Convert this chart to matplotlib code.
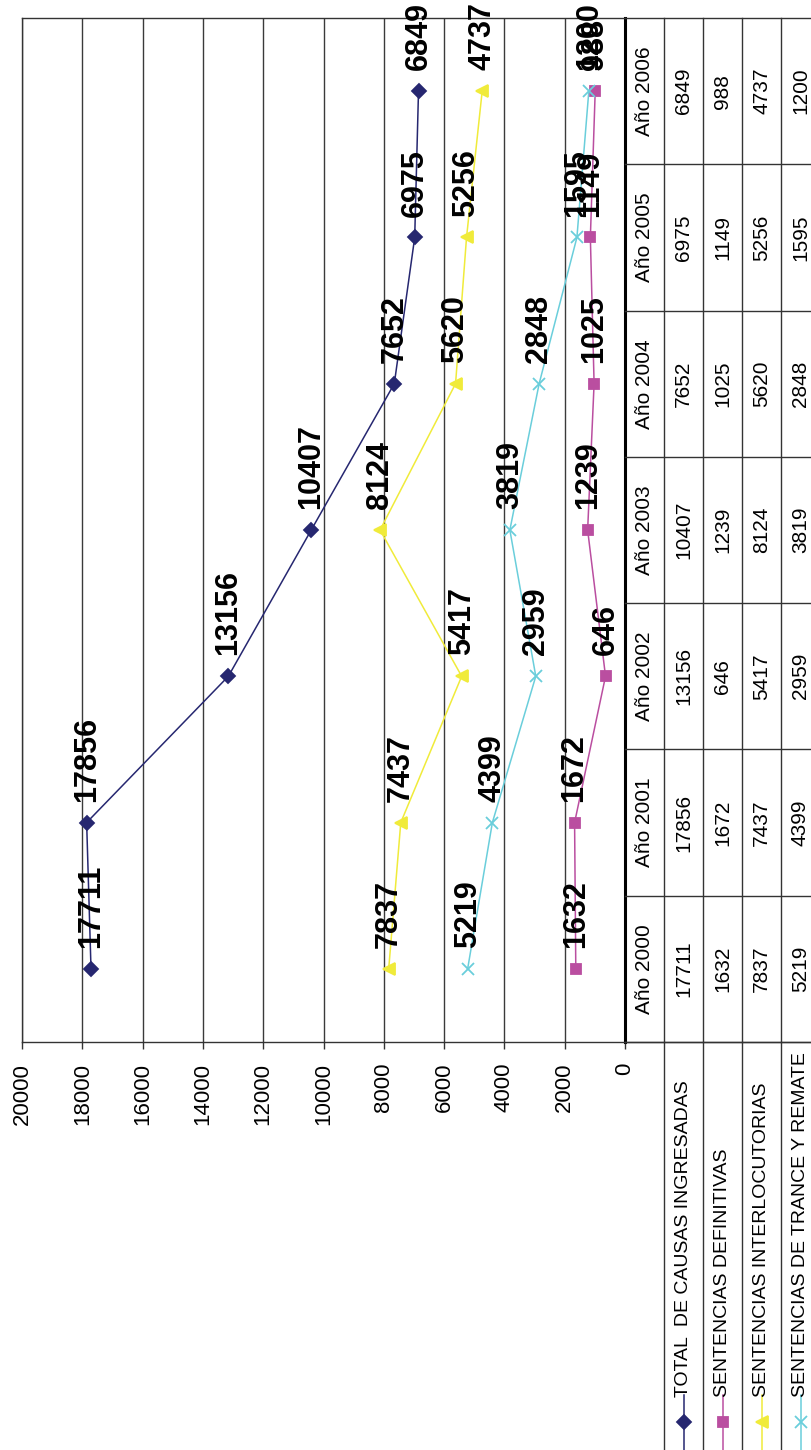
import matplotlib
matplotlib.use('Agg')
import matplotlib.pyplot as plt

plt.rcParams['font.family'] = ['Liberation Sans', 'DejaVu Sans']

# Datos
anios = ['Año 2000', 'Año 2001', 'Año 2002', 'Año 2003', 'Año 2004', 'Año 2005', 'Año 2006']
series = ['TOTAL  DE CAUSAS INGRESADAS', 'SENTENCIAS DEFINITIVAS',
          'SENTENCIAS INTERLOCUTORIAS', 'SENTENCIAS DE TRANCE Y REMATE']
total_causas = [17711, 17856, 13156, 10407, 7652, 6975, 6849]
sent_definitivas = [1632, 1672, 646, 1239, 1025, 1149, 988]
sent_interlocutorias = [7837, 7437, 5417, 8124, 5620, 5256, 4737]
sent_trance_remate = [5219, 4399, 2959, 3819, 2848, 1595, 1200]

valores = [total_causas, sent_definitivas, sent_interlocutorias, sent_trance_remate]
colores = ['#262770', '#BA4EA0', '#F0EB3A', '#6ACEDB']
marcadores = ['D', 's', '<', 'x']
tam_marc = [7, 7, 9, 9]

W, H = 811, 1450
fig = plt.figure(figsize=(W / 100, H / 100), dpi=100)

# El grafico esta girado 90 grados: valores en horizontal, años en vertical
x0, x1 = 22, 625
y_top, y_bot = 18, 1042
ax = fig.add_axes([x0 / W, 1 - y_bot / H, (x1 - x0) / W, (y_bot - y_top) / H])

ypos = list(range(len(anios)))
for vals, c, m, ms in zip(valores, colores, marcadores, tam_marc):
    ax.plot(vals, ypos, color=c, lw=1.1, marker=m, ms=ms, mew=1.3,
            mfc=c, mec=c, zorder=3)
    for v, y in zip(vals, ypos):
        ax.annotate(str(v), (v, y), xytext=(0, 15), textcoords='offset points',
                    rotation=90, ha='center', va='bottom', fontsize=22,
                    fontweight='bold', annotation_clip=False, zorder=4)

ax.set_xlim(20000, 0)
ax.set_ylim(-0.5, len(anios) - 0.5)
ax.set_xticks(range(0, 20001, 2000))
ax.set_xticklabels([str(t) for t in range(0, 20001, 2000)], rotation=90, fontsize=16)
ax.set_yticks([])
ax.tick_params(axis='x', length=5, width=1, pad=10, color='#333333')
ax.grid(axis='x', color='#3a3a3a', lw=1.0)
ax.set_axisbelow(True)
for s in ['left', 'top', 'bottom']:
    ax.spines[s].set_linewidth(1.0)
    ax.spines[s].set_color('#333333')
ax.spines['right'].set_linewidth(2.2)
ax.spines['right'].set_color('black')

# Tabla de datos (a la derecha del grafico)
tx = fig.add_axes([x1 / W, 1 - y_bot / H, (W - x1) / W, (y_bot - y_top) / H])
tx.set_xlim(0, W - x1)
tx.set_ylim(-0.5, len(anios) - 0.5)
tx.axis('off')
cols = [0, 39, 78, 117, 156, 195]
for c in cols[1:]:
    tx.plot([c, c], [-0.5, len(anios) - 0.5], color='#333333', lw=1.0, clip_on=False)
for k in range(len(anios) + 1):
    tx.plot([0, W - x1], [k - 0.5, k - 0.5], color='#333333', lw=1.0, clip_on=False)
for i, a in enumerate(anios):
    tx.text(19.5, i, a, rotation=90, ha='center', va='center', fontsize=15)
    for j, vals in enumerate(valores):
        tx.text((cols[j + 1] + cols[j + 2]) / 2, i, str(vals[i]), rotation=90,
                ha='center', va='center', fontsize=15)

# Cabeceras de fila con claves de leyenda (debajo de la tabla)
lx = fig.add_axes([x1 / W, 0, (W - x1) / W, (H - y_bot) / H])
lx.set_xlim(0, W - x1)
lx.set_ylim(H - y_bot, 0)
lx.axis('off')
lx.plot([0, W - x1], [0, 0], color='#333333', lw=1.0, clip_on=False)
for c in cols[1:]:
    lx.plot([c, c], [0, H - y_bot], color='#333333', lw=1.0, clip_on=False)
for j, (nombre, c, m, ms) in enumerate(zip(series, colores, marcadores, tam_marc)):
    cx = (cols[j + 1] + cols[j + 2]) / 2
    lx.plot([cx, cx], [353, 408], color=c, lw=1.1)
    lx.plot([cx], [380], marker=m, ms=ms, mew=1.3, color=c, mfc=c, mec=c)
    lx.text(cx, 355, nombre, rotation=90, ha='center', va='bottom', fontsize=14,
            clip_on=True)

fig.savefig('out.png', dpi=100)
